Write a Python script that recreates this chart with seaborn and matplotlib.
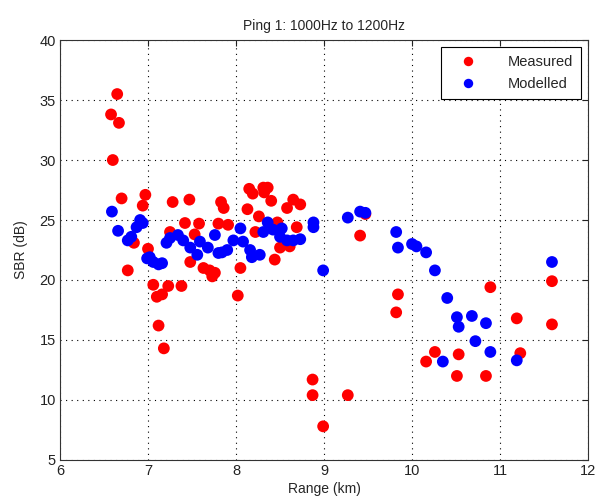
import matplotlib
matplotlib.use("Agg")
import matplotlib.pyplot as plt
import seaborn as sns
import pandas as pd

meas_range = [6.58, 6.65, 6.67, 6.60, 6.70, 6.97, 6.94, 7.28, 7.47, 7.83, 7.86, 8.13,
              7.42, 7.58, 7.80, 7.91, 7.25, 7.53, 6.84, 7.00, 7.48, 6.77, 7.63, 7.70,
              7.76, 7.73, 8.05, 7.06, 7.23, 7.38, 7.10, 7.16, 8.02, 7.12, 7.18, 8.15,
              8.19, 8.31, 8.36, 8.32, 8.40, 8.65, 8.73, 8.58, 8.26, 8.47, 8.69, 8.22,
              8.50, 8.61, 8.44, 9.47, 9.41, 9.84, 9.82, 10.16, 10.26, 8.87, 8.87, 9.27,
              8.99, 10.89, 11.19, 11.23, 11.59, 11.59, 10.53, 10.51, 10.84]
meas_sbr = [33.8, 35.5, 33.1, 30.0, 26.8, 27.1, 26.2, 26.5, 26.7, 26.5, 26.0, 25.9,
            24.75, 24.7, 24.7, 24.6, 24.0, 23.8, 23.1, 22.6, 21.5, 20.8, 21.0, 20.8,
            20.6, 20.3, 21.0, 19.6, 19.5, 19.5, 18.6, 18.8, 18.7, 16.2, 14.3, 27.6,
            27.2, 27.7, 27.7, 27.3, 26.6, 26.7, 26.3, 26.0, 25.3, 24.8, 24.4, 24.0,
            22.7, 22.8, 21.7, 25.5, 23.7, 18.8, 17.3, 13.2, 14.0, 11.7, 10.4, 10.4,
            7.8, 19.4, 16.8, 13.9, 19.9, 16.3, 13.8, 12.0, 12.0]

mod_range = [6.59, 6.91, 6.94, 6.66, 6.87, 6.81, 6.77, 7.02, 7.06, 7.16, 7.12, 6.99,
             7.21, 7.25, 7.34, 7.40, 7.48, 7.56, 7.59, 7.68, 7.76, 7.80, 7.90, 7.97,
             8.05, 8.08, 7.84, 8.36, 8.31, 8.42, 8.52, 8.50, 8.58, 8.65, 8.73, 8.88,
             8.88, 8.16, 8.18, 8.27, 8.99, 9.27, 9.41, 9.47, 9.82, 9.84, 10.00, 10.05,
             10.16, 10.26, 10.40, 10.51, 10.53, 10.68, 10.84, 10.72, 10.89, 10.35,
             11.19, 11.59]
mod_sbr = [25.7, 25.0, 24.75, 24.1, 24.4, 23.6, 23.3, 21.9, 21.5, 21.4, 21.3, 21.8,
           23.1, 23.5, 23.75, 23.3, 22.7, 22.1, 23.2, 22.7, 23.75, 22.25, 22.5, 23.3,
           24.3, 23.2, 22.3, 24.8, 24.0, 24.2, 24.3, 23.6, 23.3, 23.3, 23.4, 24.8,
           24.4, 22.5, 21.9, 22.1, 20.8, 25.2, 25.7, 25.6, 24.0, 22.7, 23.0, 22.8,
           22.3, 20.8, 18.5, 16.9, 16.1, 17.0, 16.4, 14.9, 14.0, 13.2,
           13.3, 21.5]

x_ticks = [6, 7, 8, 9, 10, 11, 12]
y_ticks = [5, 10, 15, 20, 25, 30, 35, 40]

df = pd.DataFrame({
    "Range": meas_range + mod_range,
    "SBR": meas_sbr + mod_sbr,
    "Series": ["Measured"] * len(meas_range) + ["Modelled"] * len(mod_range),
})

sns.set_style("white")
plt.rcParams["font.family"] = ["Liberation Sans", "DejaVu Sans"]

fig = plt.figure(figsize=(5.97, 5.01), dpi=100)
ax = fig.add_axes([0.1005, 0.082, 0.8845, 0.838])

sns.scatterplot(data=df, x="Range", y="SBR", hue="Series",
                hue_order=["Measured", "Modelled"],
                palette={"Measured": "#ff0000", "Modelled": "#0000ff"},
                s=72, linewidth=0, edgecolor="none", ax=ax, zorder=3)

ax.set_xlim(6, 12)
ax.set_ylim(5, 40)
ax.set_xticks(x_ticks)
ax.set_yticks(y_ticks)
ax.grid(True, linestyle=(0, (1, 4)), color="black", linewidth=0.8)
ax.tick_params(direction="in", length=4, width=0.8, top=True, right=True,
               labelsize=10.5, colors="#222222", pad=3)
for sp in ax.spines.values():
    sp.set_color("#333333")
    sp.set_linewidth(0.8)

ax.set_xlabel("Range (km)", fontsize=10, labelpad=3)
ax.set_ylabel("SBR (dB)", fontsize=10, labelpad=8)
ax.set_title("Ping 1: 1000Hz to 1200Hz", fontsize=10, pad=7)

leg = ax.legend(loc="upper right", frameon=True, fancybox=False, fontsize=10.5,
                borderpad=0.55, handletextpad=1.4, labelspacing=0.55,
                borderaxespad=0.5, markerscale=0.8, handlelength=2.6)
leg.get_frame().set_edgecolor("black")
leg.get_frame().set_linewidth(0.8)
leg.get_frame().set_alpha(1)

fig.savefig("out.png", dpi=100)
